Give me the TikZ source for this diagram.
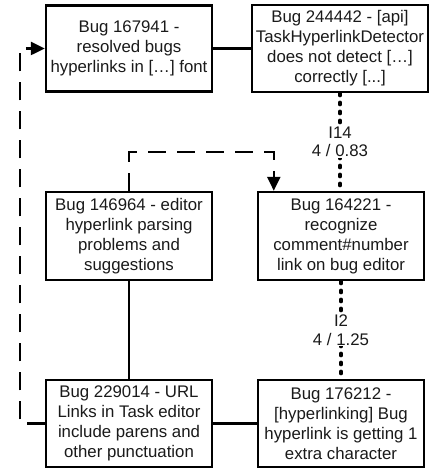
\documentclass[tikz,border=0pt]{standalone}
\usepackage{fontspec}
\setmainfont{Liberation Sans}
\usepackage{tikz}
\usetikzlibrary{calc,arrows.meta,positioning}
\definecolor{linec}{HTML}{000000}
\definecolor{textc}{HTML}{1A1A1A}
\tikzset{
  bug/.style={draw=linec,line width=2.4pt,fill=white,align=center,inner sep=2pt,
    text=textc,font=\fontsize{16.8}{20}\selectfont},
  conn/.style={linec,line width=2.4pt},
  dashconn/.style={linec,line width=2.4pt,dash pattern=on 18pt off 11pt},
  dotconn/.style={linec,line width=3.2pt,line cap=round,dash pattern=on 2.5pt off 6.5pt},
  ar/.style={-{Triangle[length=14pt,width=13pt]}},
  lbl/.style={fill=white,align=center,inner sep=1pt,text=textc,
    font=\fontsize{16.8}{18.5}\selectfont}
}
\begin{document}
\begin{tikzpicture}[x=1pt,y=1pt]
\useasboundingbox (0,0) rectangle (432,470);
\node[bug,minimum width=166,minimum height=86] (b167941) at (129,421.5)
  {Bug 167941 -\\resolved bugs\\hyperlinks in […] font};
\node[bug,minimum width=176,minimum height=87] (b244442) at (340,421.5)
  {Bug 244442 - [api]\\TaskHyperlinkDetector\\does not detect […]\\correctly [...]};
\node[bug,minimum width=166,minimum height=88] (b146964) at (129,234)
  {Bug 146964 - editor\\hyperlink parsing\\problems and\\suggestions};
\node[bug,minimum width=166,minimum height=88] (b164221) at (341,234)
  {Bug 164221 -\\recognize\\comment\#number\\link on bug editor};
\node[bug,minimum width=166,minimum height=87] (b229014) at (129,46.5)
  {Bug 229014 - URL\\Links in Task editor\\include parens and\\other punctuation};
\node[bug,minimum width=166,minimum height=87] (b176212) at (341,46.5)
  {Bug 176212 -\\{}[hyperlinking] Bug\\hyperlink is getting 1\\extra character};
\draw[conn] (b167941.east) -- (b244442.west);
\draw[conn] (b146964.south) -- (b229014.north);
\draw[conn] (b229014.east) -- (b176212.west);
\draw[dotconn] (b244442.south) -- (b244442.south |- b164221.north)
  node[midway,lbl] {I14\\4 / 0.83};
\draw[dotconn] (b164221.south) -- (b164221.south |- b176212.north)
  node[midway,lbl] {I2\\4 / 1.25};
\draw[dashconn,ar] (b146964.north) -- ++(0,39) -| ([xshift=17pt]b164221.north west);
\draw[dashconn,ar] (b229014.west) -- ++(-25,0) |- (b167941.west);
\end{tikzpicture}
\end{document}
